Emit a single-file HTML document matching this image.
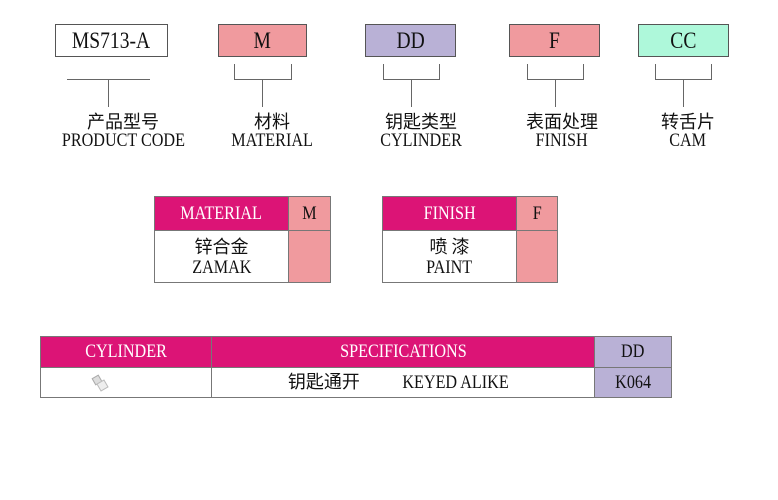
<!DOCTYPE html>
<html><head><meta charset="utf-8"><style>
body{margin:0;width:778px;height:500px;background:#fff;position:relative;overflow:hidden;font-family:"Liberation Serif","Noto Serif CJK SC",serif;color:#111}
.a{position:absolute;box-sizing:border-box}
.box{border:1px solid #555;text-align:center;font-size:23px;line-height:31px}
.ln{position:absolute;background:#666}
.lab{position:absolute;text-align:center;font-size:19px;line-height:18px;width:160px}
.lab .c{font-family:"Noto Sans CJK SC",sans-serif;font-size:18px}
.n{display:inline-block;transform:scaleX(0.85)}
.mag{background:#dc1476;color:#fff}
.pk{background:#f09a9e}
.lv{background:#b9b1d6}
.cell{position:absolute;box-sizing:border-box;border:1px solid #777;text-align:center;font-size:19px}
</style></head><body>
<div class="a box" style="left:55px;top:24px;width:113px;height:33px;background:#fff"><span class="n">MS713-A</span></div>
<div class="a box pk" style="left:218px;top:24px;width:89px;height:33px"><span class="n">M</span></div>
<div class="a box lv" style="left:365px;top:24px;width:91px;height:33px"><span class="n">DD</span></div>
<div class="a box pk" style="left:509px;top:24px;width:91px;height:33px"><span class="n">F</span></div>
<div class="a box" style="left:638px;top:24px;width:91px;height:33px;background:#aef8da"><span class="n">CC</span></div>

<div class="ln" style="left:67px;top:79px;width:83px;height:1px"></div>
<div class="ln" style="left:108px;top:79px;width:1px;height:28px"></div>

<div class="ln" style="left:234px;top:64px;width:1px;height:15px"></div>
<div class="ln" style="left:291px;top:64px;width:1px;height:15px"></div>
<div class="ln" style="left:234px;top:79px;width:58px;height:1px"></div>
<div class="ln" style="left:262px;top:79px;width:1px;height:28px"></div>

<div class="ln" style="left:383px;top:64px;width:1px;height:15px"></div>
<div class="ln" style="left:439px;top:64px;width:1px;height:15px"></div>
<div class="ln" style="left:383px;top:79px;width:57px;height:1px"></div>
<div class="ln" style="left:411px;top:79px;width:1px;height:28px"></div>

<div class="ln" style="left:527px;top:64px;width:1px;height:15px"></div>
<div class="ln" style="left:583px;top:64px;width:1px;height:15px"></div>
<div class="ln" style="left:527px;top:79px;width:57px;height:1px"></div>
<div class="ln" style="left:555px;top:79px;width:1px;height:28px"></div>

<div class="ln" style="left:655px;top:64px;width:1px;height:15px"></div>
<div class="ln" style="left:711px;top:64px;width:1px;height:15px"></div>
<div class="ln" style="left:655px;top:79px;width:57px;height:1px"></div>
<div class="ln" style="left:683px;top:79px;width:1px;height:28px"></div>

<div class="lab" style="left:43px;top:112px"><span class="c">产品型号</span><br><span class="n">PRODUCT CODE</span></div>
<div class="lab" style="left:192px;top:112px"><span class="c">材料</span><br><span class="n">MATERIAL</span></div>
<div class="lab" style="left:341px;top:112px"><span class="c">钥匙类型</span><br><span class="n">CYLINDER</span></div>
<div class="lab" style="left:482px;top:112px"><span class="c">表面处理</span><br><span class="n">FINISH</span></div>
<div class="lab" style="left:608px;top:112px"><span class="c">转舌片</span><br><span class="n">CAM</span></div>

<div class="cell mag" style="left:154px;top:196px;width:135px;height:35px;line-height:33px"><span class="n">MATERIAL</span></div>
<div class="cell pk" style="left:288px;top:196px;width:43px;height:35px;line-height:33px"><span class="n">M</span></div>
<div class="cell" style="left:154px;top:230px;width:135px;height:53px;line-height:20px;padding-top:5px"><span style="font-family:'Noto Sans CJK SC',sans-serif;font-size:18px">锌合金</span><br><span class="n">ZAMAK</span></div>
<div class="cell pk" style="left:288px;top:230px;width:43px;height:53px"></div>

<div class="cell mag" style="left:382px;top:196px;width:135px;height:35px;line-height:33px"><span class="n">FINISH</span></div>
<div class="cell pk" style="left:516px;top:196px;width:42px;height:35px;line-height:33px"><span class="n">F</span></div>
<div class="cell" style="left:382px;top:230px;width:135px;height:53px;line-height:20px;padding-top:5px"><span style="font-family:'Noto Sans CJK SC',sans-serif;font-size:18px">喷 漆</span><br><span class="n">PAINT</span></div>
<div class="cell pk" style="left:516px;top:230px;width:42px;height:53px"></div>

<div class="cell mag" style="left:40px;top:336px;width:172px;height:32px;line-height:30px"><span class="n">CYLINDER</span></div>
<div class="cell mag" style="left:211px;top:336px;width:384px;height:32px;line-height:30px"><span class="n">SPECIFICATIONS</span></div>
<div class="cell lv" style="left:594px;top:336px;width:78px;height:32px;line-height:30px"><span class="n">DD</span></div>
<div class="cell" style="left:40px;top:367px;width:172px;height:31px"><div style="position:absolute;left:52px;top:8px;width:6px;height:6px;background:#ddd;border:1px solid #aaa;transform:rotate(-30deg)"></div><div style="position:absolute;left:57px;top:13px;width:7px;height:7px;background:#eee;border:1px solid #bbb;transform:rotate(-30deg)"></div></div>
<div class="cell" style="left:211px;top:367px;width:384px;height:31px;line-height:27px"><span style="font-family:'Noto Sans CJK SC',sans-serif;font-size:18px">钥匙通开</span>&nbsp;&nbsp;&nbsp;&nbsp;&nbsp;&nbsp;&nbsp;<span class="n">KEYED ALIKE</span></div>
<div class="cell lv" style="left:594px;top:367px;width:78px;height:31px;line-height:29px"><span class="n">K064</span></div>
</body></html>
